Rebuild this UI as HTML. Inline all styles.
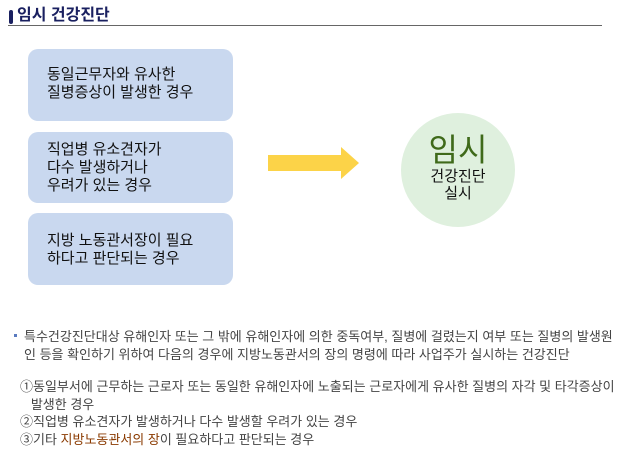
<!DOCTYPE html>
<html><head><meta charset="utf-8"><style>
body{margin:0;width:626px;height:463px;background:#fff;position:relative;overflow:hidden;font-family:"Liberation Sans","Noto Sans CJK KR",sans-serif;}
.a{position:absolute;}
.box{position:absolute;left:28px;width:205px;background:#c9d8ef;border-radius:10px;font-size:15px;line-height:18px;color:#111;box-sizing:border-box;padding-left:19px;}
.t{font-size:13px;color:#444;line-height:17.5px;position:absolute;left:24px;white-space:nowrap;}
</style></head><body>
<div class="a" style="left:9px;top:10px;width:4px;height:14px;background:#1a2060;border-radius:2px"></div>
<div class="a" style="left:17px;top:5px;font-size:16px;font-weight:bold;color:#1a2060;line-height:22px">임시 건강진단</div>
<div class="a" style="left:8px;top:25px;width:594px;height:1px;background:#666"></div>
<div class="box" style="top:49px;height:72px;padding-top:17px">동일근무자와 유사한<br>질병증상이 발생한 경우</div>
<div class="box" style="top:132px;height:71px;padding-top:9px">직업병 유소견자가<br>다수 발생하거나<br>우려가 있는 경우</div>
<div class="box" style="top:213px;height:72px;padding-top:19px">지방 노동관서장이 필요<br>하다고 판단되는 경우</div>
<svg class="a" style="left:0;top:0" width="626" height="300"><polygon points="268,155 341,155 341,147 359,163 341,179 341,171 268,171" fill="#fcd348"/><circle cx="458" cy="170" r="57" fill="#dff0de"/></svg>
<div class="a" style="left:401px;top:133px;width:114px;text-align:center;font-size:32px;line-height:34px;color:#3f6a1a">임시</div>
<div class="a" style="left:401px;top:168px;width:114px;text-align:center;font-size:15px;line-height:17px;color:#111">건강진단<br>실시</div>
<div class="a" style="left:14px;top:334px;width:3px;height:3px;background:#5a7abf"></div>
<div class="t" style="top:328px">특수건강진단대상 유해인자 또는 그 밖에 유해인자에 의한 중독여부, 질병에 걸렸는지 여부 또는 질병의 발생원<br>인 등을 확인하기 위하여 다음의 경우에 지방노동관서의 장의 명령에 따라 사업주가 실시하는 건강진단</div>
<div class="t" style="top:378px;left:20px">①동일부서에 근무하는 근로자 또는 동일한 유해인자에 노출되는 근로자에게 유사한 질병의 자각 및 타각증상이<br>&nbsp;&nbsp;&nbsp;발생한 경우<br>②직업병 유소견자가 발생하거나 다수 발생할 우려가 있는 경우<br>③기타 <span style="color:#8a3a00">지방노동관서의 장</span>이 필요하다고 판단되는 경우</div>
</body></html>
